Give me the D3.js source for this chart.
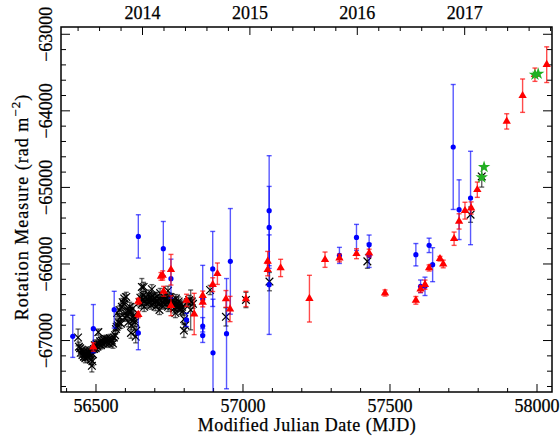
<!DOCTYPE html>
<html>
<head>
<meta charset="utf-8">
<script src="https://cdn.jsdelivr.net/npm/d3@7"></script>
<style>
  body { margin: 0; background: #fff; }
  text { font-family: "Liberation Serif", "DejaVu Serif", serif; fill: #000; stroke: #000; stroke-width: 0.25px; }
</style>
</head>
<body>
<svg id="chart" width="560" height="441"></svg>
<script>
// Black crosses: [MJD, RM, error]
var blackPts = [
  [56439, -66960, 110], [56442, -67080, 60], [56446, -67100, 50], [56448, -67160, 50],
  [56452, -67120, 50], [56454, -67190, 60], [56457, -67150, 50], [56459, -67210, 50],
  [56462, -67180, 50], [56464, -67230, 60], [56466, -67170, 50], [56469, -67200, 50],
  [56471, -67140, 50], [56473, -67220, 60], [56476, -67160, 50], [56478, -67190, 50],
  [56480, -67130, 50], [56483, -67250, 60], [56486, -67330, 80], [56488, -67270, 60],
  [56490, -67180, 50], [56493, -67110, 50], [56496, -67060, 50], [56499, -67100, 50],
  [56502, -67040, 50], [56505, -67080, 50], [56508, -66890, 40], [56511, -67050, 50],
  [56514, -67010, 50], [56517, -67060, 50], [56520, -67000, 50], [56523, -67040, 50],
  [56527, -66990, 50], [56530, -67030, 50], [56534, -66980, 50], [56537, -67020, 50],
  [56541, -66990, 50], [56544, -67040, 50], [56548, -66970, 50], [56551, -67020, 50],
  [56554, -67000, 50], [56558, -67040, 60], [56561, -66960, 50], [56565, -66930, 60],
  [56568, -66850, 60], [56570, -66820, 50], [56572, -66640, 50], [56574, -66800, 60],
  [56577, -66760, 50], [56580, -66600, 50], [56582, -66700, 50], [56585, -66780, 60],
  [56588, -66560, 50], [56591, -66500, 50], [56595, -66520, 60], [56596, -66450, 60],
  [56598, -66700, 50], [56600, -66640, 50], [56603, -66430, 60], [56606, -66680, 50],
  [56609, -66610, 50], [56610, -66760, 60], [56612, -66620, 50], [56615, -66560, 60],
  [56618, -66620, 50], [56619, -66900, 70], [56621, -66800, 60], [56624, -66740, 60],
  [56625, -66580, 60], [56627, -66680, 60], [56630, -66720, 50], [56633, -66760, 60],
  [56635, -66950, 80], [56637, -66870, 60], [56656, -66300, 110],
  [56648, -66500, 50], [56651, -66440, 50], [56655, -66530, 50], [56658, -66470, 60],
  [56661, -66410, 50], [56662, -66300, 60], [56664, -66560, 60], [56667, -66480, 50],
  [56670, -66430, 50], [56673, -66520, 50], [56676, -66460, 50], [56679, -66400, 60],
  [56682, -66500, 50], [56685, -66440, 50], [56688, -66540, 50], [56690, -66330, 60],
  [56691, -66470, 50], [56694, -66420, 50], [56697, -66510, 50], [56700, -66450, 60],
  [56703, -66560, 50], [56706, -66490, 50], [56709, -66420, 50], [56712, -66520, 50],
  [56715, -66460, 50], [56716, -66600, 60], [56718, -66380, 60], [56721, -66480, 50],
  [56724, -66540, 50], [56727, -66500, 50], [56730, -66430, 60], [56733, -66470, 50],
  [56736, -66530, 50], [56739, -66450, 50], [56742, -66500, 50], [56745, -66350, 60],
  [56745, -66560, 60], [56748, -66480, 50], [56751, -66430, 50], [56754, -66510, 50],
  [56757, -66550, 50], [56760, -66470, 80], [56763, -66520, 50], [56766, -66580, 60],
  [56769, -66500, 50], [56770, -66640, 60], [56772, -66450, 50], [56775, -66530, 50],
  [56778, -66570, 50], [56781, -66490, 60], [56784, -66540, 50], [56787, -66600, 60],
  [56790, -66520, 50], [56793, -66560, 50], [56797, -66610, 60], [56799, -66870, 90],
  [56800, -66720, 70], [56804, -66800, 80], [56813, -66500, 50], [56817, -66470, 60],
  [56822, -66600, 260], [56826, -66490, 50], [56830, -66520, 60], [56888, -66340, 60],
  [56942, -66690, 120], [57010, -66470, 100], [57090, -66230, 120], [57423, -65966, 90],
  [57774, -65356, 100], [57812, -64856, 140]
];

// Blue circles: [MJD, RM, error]
var bluePts = [
  [56421, -66945, 275], [56491, -66845, 315], [56562, -66597, 240], [56644, -65640, 283],
  [56644, -66900, 220], [56729, -65800, 355], [56755, -66192, 255], [56808, -66730, 87],
  [56863, -66453, 435], [56863, -66810, 110], [56863, -66935, 90], [56897, -66065, 490],
  [56898, -67160, 700], [56957, -65966, 690], [56944, -66910, 720], [57089, -65304, 718],
  [57089, -65522, 535], [57089, -66270, 650], [57328, -65888, 105], [57386, -65653, 170],
  [57429, -65748, 126], [57429, -65888, 157], [57588, -65879, 146], [57604, -66292, 83],
  [57619, -66292, 120], [57633, -65757, 94], [57645, -66009, 222], [57715, -64472, 816],
  [57735, -65291, 390], [57774, -65138, 610]
];

// Red triangles: [MJD, RM, error]
var redPts = [
  [56491, -67084, 55], [56644, -66488, 40], [56644, -66662, 40], [56721, -66162, 50],
  [56727, -66150, 60], [56730, -66357, 65], [56755, -66075, 200], [56755, -66545, 130],
  [56808, -66475, 80], [56834, -66653, 270], [56863, -66414, 60], [56863, -66500, 60],
  [56897, -66270, 90], [56913, -66127, 140], [56942, -66457, 110], [56956, -66588, 165],
  [57010, -66457, 100], [57084, -65966, 130], [57084, -66075, 80], [57128, -66052, 113],
  [57226, -66453, 305], [57279, -65944, 100], [57328, -65922, 50], [57386, -65866, 65],
  [57429, -65857, 50], [57483, -66379, 40], [57588, -66475, 50], [57604, -66327, 45],
  [57619, -66270, 60], [57633, -66052, 40], [57670, -65931, 30], [57681, -66000, 50],
  [57718, -65670, 87], [57735, -65444, 100], [57755, -65304, 110], [57776, -65269, 80],
  [57797, -65030, 100], [57897, -64138, 100], [57951, -63802, 218], [57993, -63528, 87],
  [58033, -63397, 233]
];

// Green stars: [MJD, RM]
var greenPts = [[57812, -64869], [57820, -64733], [57993, -63528], [58004, -63515]];

var yearLabels = [2014, 2015, 2016, 2017];
var mjdTicks = [56500, 57000, 57500, 58000];
var rmTicks = [-67000, -66000, -65000, -64000, -63000];

var svg = d3.select('#chart');
var box = {left: 61, right: 552, top: 27, bottom: 392};

var x = d3.scaleLinear().domain([56381, 58051]).range([box.left, box.right]);
var y = d3.scaleLinear().domain([-67672, -62905]).range([box.bottom, box.top]);

// year -> MJD (2013-01-01 = MJD 56293)
var yearToMJD = function(yr) { return 56293 + (yr - 2013) * 365.25; };

svg.append('clipPath').attr('id', 'clip')
   .append('rect')
   .attr('x', box.left).attr('y', box.top)
   .attr('width', box.right - box.left).attr('height', box.bottom - box.top);

// Ticks drawn by hand so they point inward on all four sides.
var ticks = svg.append('g').attr('stroke', '#000').attr('stroke-width', 1);

d3.range(56400, 58051, 100).forEach(function(v) {
  var len = (v % 500 === 0) ? 8 : 4;
  ticks.append('line').attr('x1', x(v)).attr('x2', x(v))
       .attr('y1', box.bottom).attr('y2', box.bottom - len);
});
d3.range(2013.2, 2018.01, 0.2).forEach(function(yr) {
  var m = yearToMJD(yr);
  if (m < 56381 || m > 58051) return;
  var major = Math.abs(yr - Math.round(yr)) < 0.01;
  var len = major ? 8 : 4;
  ticks.append('line').attr('x1', x(m)).attr('x2', x(m))
       .attr('y1', box.top).attr('y2', box.top + len);
});
d3.range(-67600, -62900, 200).forEach(function(v) {
  var len = (v % 1000 === 0) ? 9 : 5;
  ticks.append('line').attr('x1', box.left).attr('x2', box.left + len)
       .attr('y1', y(v)).attr('y2', y(v));
  ticks.append('line').attr('x1', box.right).attr('x2', box.right - len)
       .attr('y1', y(v)).attr('y2', y(v));
});

// Tick labels
svg.selectAll('.xlab').data(mjdTicks).enter().append('text')
   .attr('class', 'xlab')
   .attr('x', function(d) { return x(d); })
   .attr('y', 412)
   .attr('text-anchor', 'middle')
   .style('font-size', '18px')
   .text(function(d) { return d; });

svg.selectAll('.toplab').data(yearLabels).enter().append('text')
   .attr('class', 'toplab')
   .attr('x', function(d) { return x(yearToMJD(d)); })
   .attr('y', 19)
   .attr('text-anchor', 'middle')
   .style('font-size', '18px')
   .text(function(d) { return d; });

svg.selectAll('.ylab').data(rmTicks).enter().append('text')
   .attr('class', 'ylab')
   .attr('transform', function(d) { return 'translate(52,' + y(d) + ') rotate(-90)'; })
   .attr('text-anchor', 'middle')
   .style('font-size', '18px')
   .text(function(d) { return '\u2212' + Math.abs(d); });

// Axis titles
svg.append('text')
   .attr('x', 307).attr('y', 431)
   .attr('text-anchor', 'middle')
   .style('font-size', '18px')
   .style('letter-spacing', '0.5px')
   .text('Modified Julian Date (MJD)');

var ytitle = svg.append('text')
   .attr('transform', 'translate(28,207) rotate(-90)')
   .attr('text-anchor', 'middle')
   .style('font-size', '18px')
   .style('letter-spacing', '1px');
ytitle.append('tspan').text('Rotation Measure (rad m');
ytitle.append('tspan').attr('dy', -8).style('font-size', '13px').text('\u22122');
ytitle.append('tspan').attr('dy', 8).text(')');

// Data
var plot = svg.append('g').attr('clip-path', 'url(#clip)');

var drawErrors = function(pts, color, cls) {
  var g = plot.append('g').attr('class', cls)
              .attr('stroke', color).attr('stroke-width', 1.4);
  pts.forEach(function(p) {
    var top = y(p[1] + p[2]), bot = y(p[1] - p[2]), cx = x(p[0]);
    g.append('line').attr('x1', cx).attr('x2', cx).attr('y1', top).attr('y2', bot);
    g.append('line').attr('x1', cx - 2.5).attr('x2', cx + 2.5).attr('y1', top).attr('y2', top);
    g.append('line').attr('x1', cx - 2.5).attr('x2', cx + 2.5).attr('y1', bot).attr('y2', bot);
  });
};

drawErrors(blackPts, 'rgba(0,0,0,0.6)', 'blackErr');
plot.selectAll('.cross').data(blackPts).enter().append('path')
    .attr('class', 'cross')
    .attr('d', d3.symbol().type(d3.symbolTimes).size(40))
    .attr('transform', function(d) { return 'translate(' + x(d[0]) + ',' + y(d[1]) + ')'; })
    .attr('fill', 'none').attr('stroke', '#000').attr('stroke-width', 1.2);

drawErrors(bluePts, 'rgba(0,0,255,0.65)', 'blueErr');
plot.selectAll('.dot').data(bluePts).enter().append('circle')
    .attr('class', 'dot')
    .attr('cx', function(d) { return x(d[0]); })
    .attr('cy', function(d) { return y(d[1]); })
    .attr('r', 2.6)
    .attr('fill', '#0000ff');

drawErrors(redPts, 'rgba(255,0,0,0.7)', 'redErr');
plot.selectAll('.tri').data(redPts).enter().append('path')
    .attr('class', 'tri')
    .attr('d', d3.symbol().type(d3.symbolTriangle).size(30))
    .attr('transform', function(d) { return 'translate(' + x(d[0]) + ',' + y(d[1]) + ')'; })
    .attr('fill', '#ff0000');

plot.selectAll('.star').data(greenPts).enter().append('path')
    .attr('class', 'star')
    .attr('d', d3.symbol().type(d3.symbolStar).size(48))
    .attr('transform', function(d) { return 'translate(' + x(d[0]) + ',' + y(d[1]) + ')'; })
    .attr('fill', '#22b022');

// Frame
svg.append('rect')
   .attr('x', box.left).attr('y', box.top)
   .attr('width', box.right - box.left).attr('height', box.bottom - box.top)
   .attr('fill', 'none').attr('stroke', '#000').attr('stroke-width', 1.5);
</script>
</body>
</html>
